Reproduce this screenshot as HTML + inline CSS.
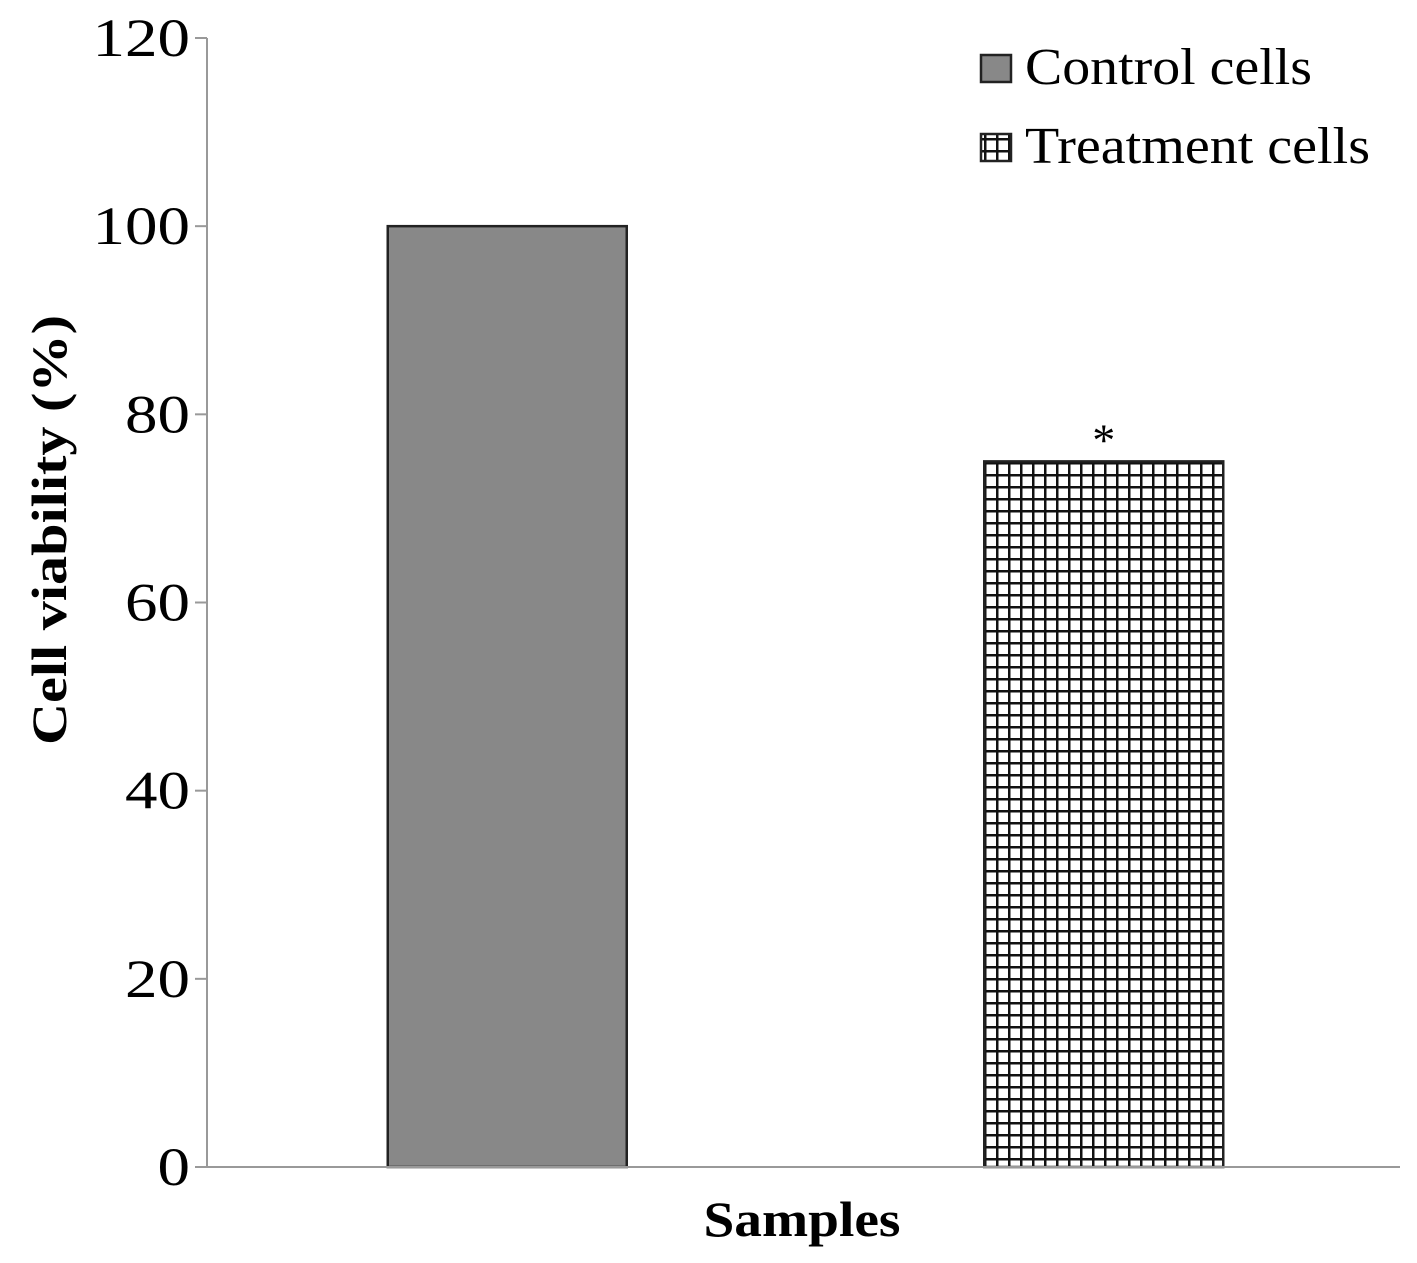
<!DOCTYPE html>
<html><head><meta charset="utf-8"><style>
body{margin:0;background:#fff}
svg text{font-family:"Liberation Serif",serif}
</style></head><body>
<svg width="1417" height="1258" viewBox="0 0 1417 1258">
<defs>
<pattern id="grid" patternUnits="userSpaceOnUse" width="12" height="12" x="984" y="462">
<rect width="12" height="12" fill="#fff"/>
<rect x="0" y="0" width="2.5" height="12" fill="#111"/>
<rect x="0" y="0" width="12" height="2.5" fill="#111"/>
</pattern>
</defs>
<g id="plot"></g>
<g>
<rect x="981" y="55" width="30" height="27" fill="#888" stroke="#222" stroke-width="2.5"/>
<text x="1025" y="84" font-size="52" textLength="287" lengthAdjust="spacingAndGlyphs">Control cells</text>
<rect x="981" y="134" width="30" height="27" fill="url(#grid)" stroke="#222" stroke-width="2.5"/>
<text x="1025" y="163" font-size="52" textLength="345" lengthAdjust="spacingAndGlyphs">Treatment cells</text>
</g>
<text transform="translate(66,530) rotate(-90)" text-anchor="middle" font-size="50" font-weight="bold" textLength="430" lengthAdjust="spacingAndGlyphs">Cell viability (%)</text>
<text x="802" y="1236" text-anchor="middle" font-size="50" font-weight="bold" textLength="197" lengthAdjust="spacingAndGlyphs">Samples</text>
</svg>
<script>
const categories=["Control cells","Treatment cells"];
const values=[100,75];
const ticks=[0,20,40,60,80,100,120];
const fills=["#888","url(#grid)"];
const y0=1167,y1=38,vmax=120;
const ys=v=>y0-(y0-y1)*v/vmax;
const xl=207,xr=1400;
const bw=239;
const xc=i=>xl+(xr-xl)*(i+0.5)/categories.length+2;
const ns="http://www.w3.org/2000/svg";
const g=document.getElementById('plot');
function mk(t,a){const e=document.createElementNS(ns,t);for(const k in a)e.setAttribute(k,a[k]);g.appendChild(e);return e;}
values.forEach((v,i)=>{
 const r=mk('rect',{x:xc(i)-bw/2,y:ys(v),width:bw,height:y0-ys(v),fill:fills[i],stroke:'#222','stroke-width':2.5});
 
 
});
const st=mk('text',{x:xc(1),y:ys(values[1])-6,'text-anchor':'middle','font-size':46});
st.textContent='*';


ticks.forEach(t=>{
 const l=mk('line',{x1:195,x2:xl,y1:ys(t),y2:ys(t),stroke:'#999','stroke-width':2});
 
 
 const s=String(t);
 const tx=mk('text',{x:190,y:ys(t)+18,'text-anchor':'end','font-size':54,textLength:s.length*32.5,lengthAdjust:'spacingAndGlyphs'});
 tx.textContent=s;
 
 
});
const ya=mk('line',{x1:xl,x2:xl,y1:y1,y2:y0,stroke:'#999','stroke-width':2});


const xa=mk('line',{x1:xl,x2:xr,y1:y0,y2:y0,stroke:'#999','stroke-width':2});


</script>
</body></html>
